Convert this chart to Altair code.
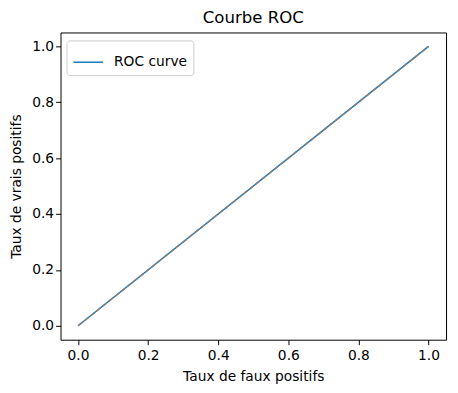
import altair as alt
import pandas as pd

fpr = [0.0, 1.0]
tpr = [0.0, 1.0]
diag_x = [0.0, 1.0]
diag_y = [0.0, 1.0]
series = ["ROC curve", "ROC curve"]

roc = pd.DataFrame({"fpr": fpr, "tpr": tpr, "serie": series})
diag = pd.DataFrame({"x": diag_x, "y": diag_y})

font = "DejaVu Sans"
xscale = alt.Scale(domain=[-0.05, 1.05], nice=False, zero=False)
yscale = alt.Scale(domain=[-0.05, 1.05], nice=False, zero=False)

axis_common = dict(
    values=[0, 0.2, 0.4, 0.6, 0.8, 1.0], format=".1f", grid=False,
    domain=False, tickColor="black", tickSize=5, tickWidth=1,
    labelFont=font, labelFontSize=13.9, labelColor="black",
    titleFont=font, titleFontSize=13.9, titleFontWeight="normal", titleColor="black",
)

line = alt.Chart(roc).mark_line(strokeWidth=1.5).encode(
    x=alt.X("fpr:Q", scale=xscale, axis=alt.Axis(title="Taux de faux positifs", titlePadding=7, labelPadding=4, **axis_common)),
    y=alt.Y("tpr:Q", scale=yscale, axis=alt.Axis(title="Taux de vrais positifs", titlePadding=8, **axis_common)),
    color=alt.Color("serie:N", scale=alt.Scale(domain=["ROC curve"], range=["#1f77b4"]),
                    legend=alt.Legend(title=None, orient="none", legendX=6, legendY=8,
                                      symbolType="stroke", symbolStrokeWidth=1.5, symbolSize=900,
                                      labelOffset=10,
                                      labelFont=font, labelFontSize=13.9, labelColor="black",
                                      fillColor="white", strokeColor="#cccccc", cornerRadius=3,
                                      padding=6)),
)

dline = alt.Chart(diag).mark_line(strokeWidth=1.5, color="gray", strokeDash=[5.5, 2.4]).encode(
    x="x:Q", y="y:Q"
)

chart = alt.layer(line, dline).properties(
    width=389, height=310,
    title=alt.Title("Courbe ROC", font=font, fontSize=16.7, fontWeight="normal", color="black", offset=6),
    autosize=alt.AutoSizeParams(type="none"),
    padding={"left": 53, "top": 23, "right": 4, "bottom": 45},
).configure_view(stroke="black", strokeWidth=1)

chart.save("out.html", embed_options={"renderer": "svg", "actions": False})
